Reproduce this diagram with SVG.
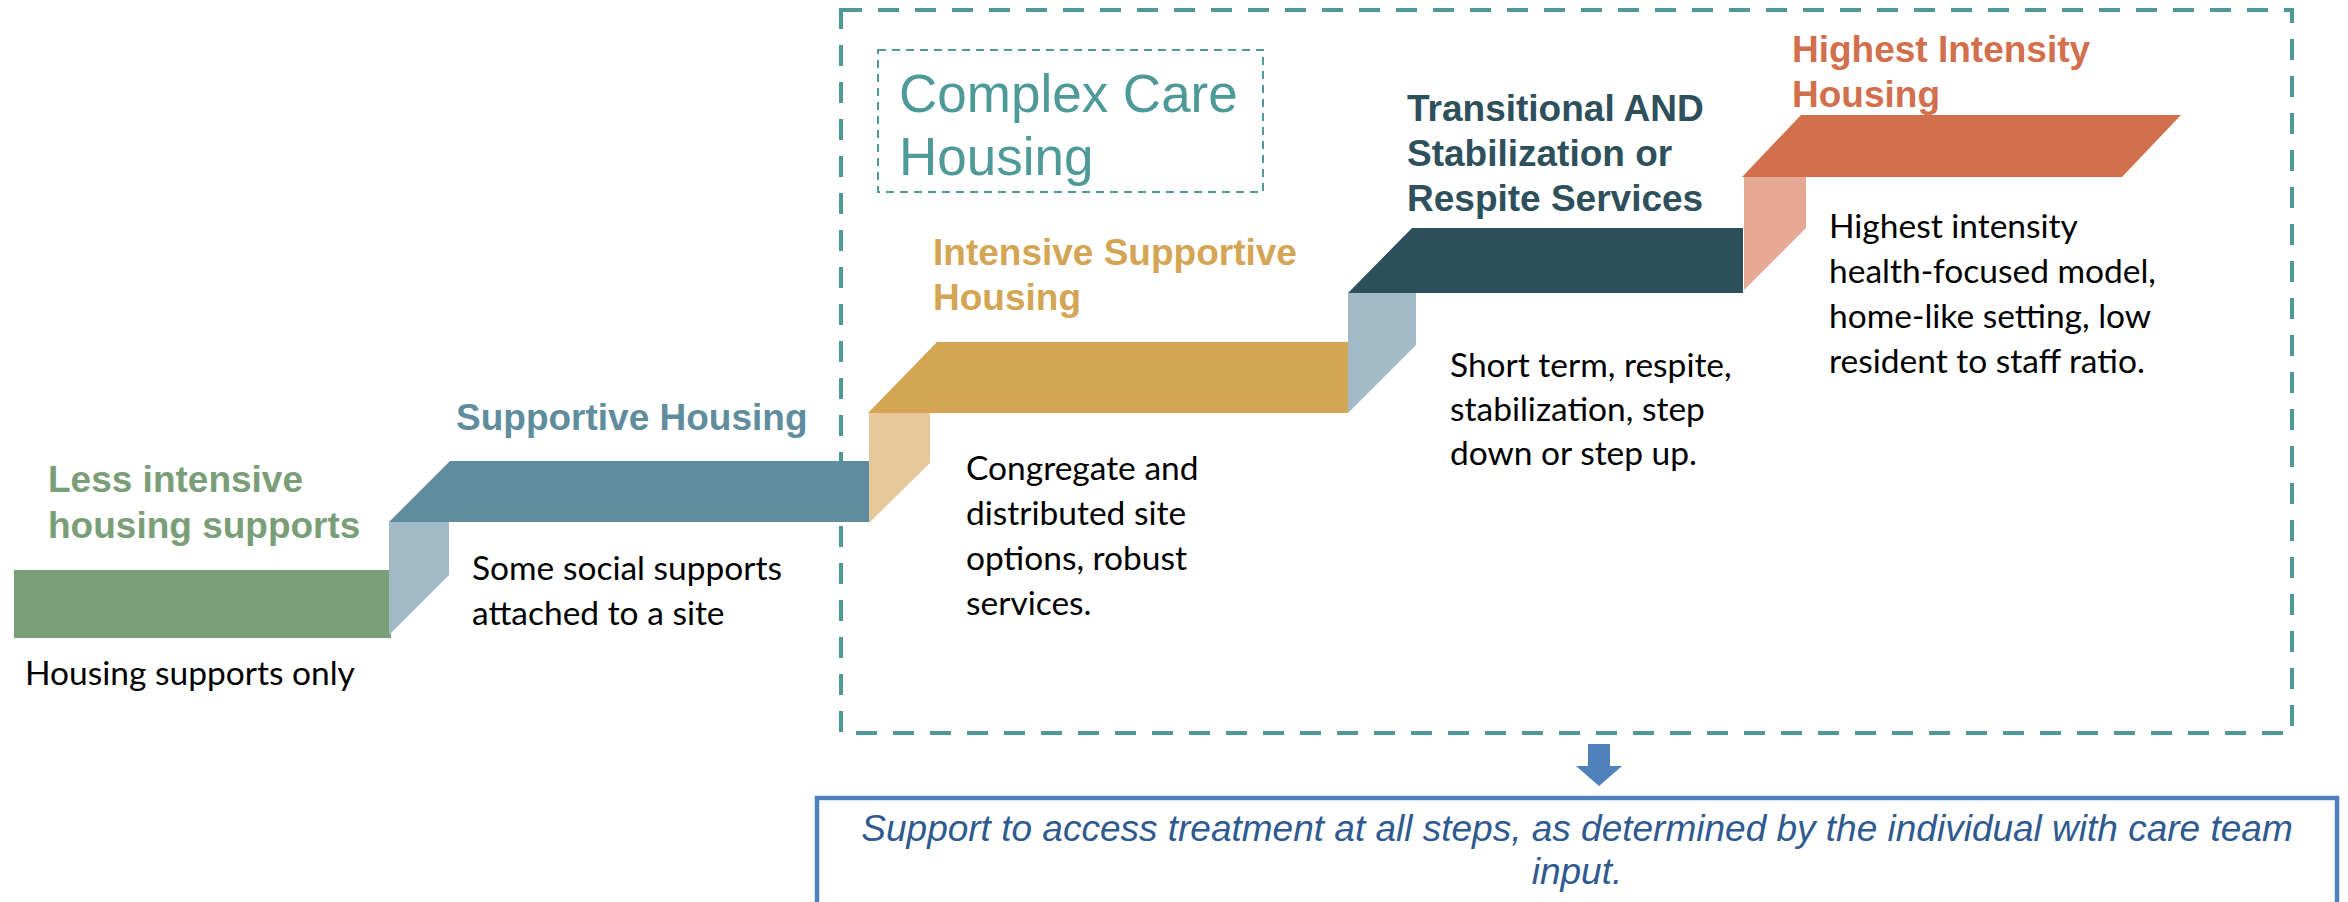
<svg xmlns="http://www.w3.org/2000/svg" width="2348" height="902" viewBox="0 0 2348 902">
  <style>
    .head { font-family: "Liberation Sans", Arial, sans-serif; font-weight: bold; font-size: 37px; }
    .body { font-family: Lato, "Liberation Sans", sans-serif; font-size: 33.5px; fill: #000000; }
    .title { font-family: "Liberation Sans", Arial, sans-serif; font-size: 53px; fill: #4E9A98; }
    .frame { fill: none; stroke: #4F9A98; stroke-width: 4; stroke-dasharray: 21 16; }
    .inner { fill: none; stroke: #4F9A98; stroke-width: 2; stroke-dasharray: 8 6; }
    .note { font-family: "Liberation Sans", Arial, sans-serif; font-style: italic; font-size: 37px; fill: #2F5A8F; }
  </style>

  <rect width="2348" height="902" fill="#FFFFFF"/>

  <!-- complex care housing frame -->
  <g id="complex-care-frame">
    <rect class="frame" x="841" y="10" width="1451" height="723"/>
    <rect class="inner" x="878" y="50" width="385" height="142"/>
    <text class="title" x="899" y="112">Complex Care</text>
    <text class="title" x="899" y="175">Housing</text>
  </g>

  <!-- step 1 -->
  <g id="step-less-intensive">
    <rect x="14" y="570" width="377" height="68" fill="#7A9E78"/>
    <text class="head" fill="#7A9E78" x="48" y="492">Less intensive</text>
    <text class="head" fill="#7A9E78" x="48" y="538">housing supports</text>
    <text class="body" x="25" y="685">Housing supports only</text>
  </g>

  <!-- step 2 -->
  <g id="step-supportive">
    <polygon points="389,522 449,522 449,575 389,635" fill="#A2BAC5"/>
    <polygon points="450,461 870,461 870,522 389,522" fill="#5F8D9D"/>
    <text class="head" fill="#5F8D9D" x="456" y="430">Supportive Housing</text>
    <text class="body" x="472" y="580">Some social supports</text>
    <text class="body" x="472" y="625">attached to a site</text>
  </g>

  <!-- step 3 -->
  <g id="step-intensive-supportive">
    <polygon points="869,413 930,413 930,463 869,523" fill="#E5C99A"/>
    <polygon points="937,342 1348,342 1348,413 868,413" fill="#D4A554"/>
    <text class="head" fill="#D4A554" x="933" y="265">Intensive Supportive</text>
    <text class="head" fill="#D4A554" x="933" y="310">Housing</text>
    <text class="body" x="966" y="480">Congregate and</text>
    <text class="body" x="966" y="525">distributed site</text>
    <text class="body" x="966" y="570">options, robust</text>
    <text class="body" x="966" y="615">services.</text>
  </g>

  <!-- step 4 -->
  <g id="step-transitional">
    <polygon points="1348,293 1416,293 1416,345 1348,413" fill="#A2BAC5"/>
    <polygon points="1412,228 1743,228 1743,293 1348,293" fill="#2E4F5C"/>
    <text class="head" fill="#2E4F5C" x="1407" y="121">Transitional AND</text>
    <text class="head" fill="#2E4F5C" x="1407" y="166">Stabilization or</text>
    <text class="head" fill="#2E4F5C" x="1407" y="211">Respite Services</text>
    <text class="body" x="1450" y="377">Short term, respite,</text>
    <text class="body" x="1450" y="421">stabilization, step</text>
    <text class="body" x="1450" y="465">down or step up.</text>
  </g>

  <!-- step 5 -->
  <g id="step-highest-intensity">
    <polygon points="1744,177 1806,177 1806,228 1744,290" fill="#E4A893"/>
    <polygon points="1801,115 2181,115 2122,177 1742,177" fill="#D2704E"/>
    <text class="head" fill="#D2704E" x="1792" y="62">Highest Intensity</text>
    <text class="head" fill="#D2704E" x="1792" y="107">Housing</text>
    <text class="body" x="1829" y="238">Highest intensity</text>
    <text class="body" x="1829" y="283">health-focused model,</text>
    <text class="body" x="1829" y="328">home-like setting, low</text>
    <text class="body" x="1829" y="373">resident to staff ratio.</text>
  </g>

  <!-- connectors -->
  <g id="connectors">
    <polygon points="1588,744 1610,744 1610,766 1622,766 1599,786 1576,766 1588,766" fill="#4F81BD"/>
  </g>

  <!-- treatment note -->
  <g id="treatment-note">
    <rect x="817" y="798" width="1520" height="130" fill="#FFFFFF" stroke="#4F81BD" stroke-width="4.5"/>
    <text class="note" x="1577" y="841" text-anchor="middle">Support to access treatment at all steps, as determined by the individual with care team</text>
    <text class="note" x="1577" y="884" text-anchor="middle">input.</text>
  </g>
</svg>
